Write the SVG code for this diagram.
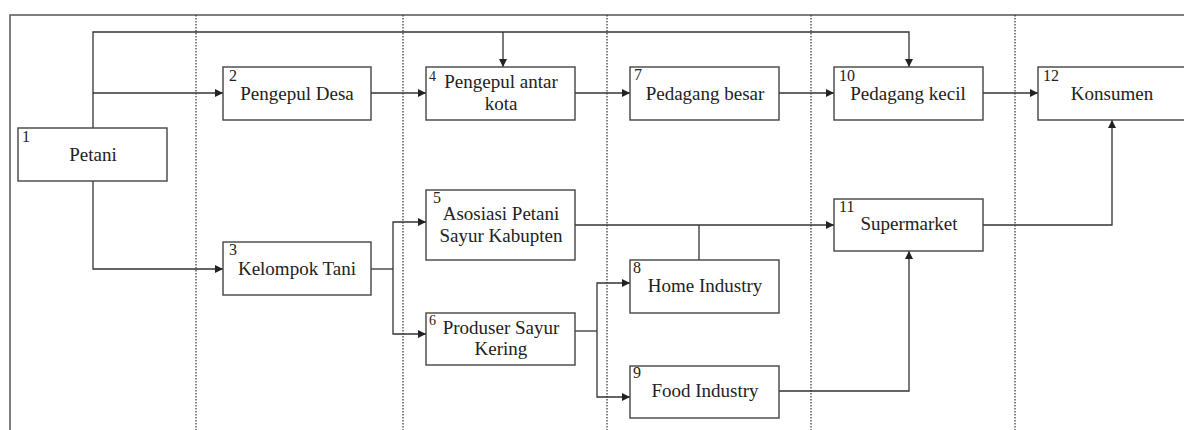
<svg xmlns="http://www.w3.org/2000/svg" width="1184" height="430" viewBox="0 0 1184 430">
<defs>
<marker id="ah" viewBox="0 0 10 10" refX="10" refY="5" markerWidth="9" markerHeight="8" markerUnits="userSpaceOnUse" orient="auto">
<path d="M0,0 L10,5 L0,10 Z" fill="#222"/>
</marker>
<style>
.frame{fill:none;stroke:#555;stroke-width:1.5}
.lane{stroke:#333;stroke-width:1.2;stroke-dasharray:1.5 1.5}
.box{fill:#fff;stroke:#444;stroke-width:1.4}
.c{fill:none;stroke:#333;stroke-width:1.3}
.a{marker-end:url(#ah)}
.t{font-family:"Liberation Serif","Times New Roman",serif;font-size:19px;fill:#222;text-anchor:middle}
.n{font-family:"Liberation Serif","Times New Roman",serif;font-size:16px;fill:#222}
</style>
</defs>
<rect width="1184" height="430" fill="#fff"/>
<g id="frame">
<path class="frame" d="M1184,15 H10 V430"/>
<line class="lane" x1="196" y1="15" x2="196" y2="430"/>
<line class="lane" x1="403" y1="15" x2="403" y2="430"/>
<line class="lane" x1="607" y1="15" x2="607" y2="430"/>
<line class="lane" x1="811" y1="15" x2="811" y2="430"/>
<line class="lane" x1="1015" y1="15" x2="1015" y2="430"/>
</g>
<g id="connectors">
<path class="c a" d="M93,128 V32 H909 V67"/>
<path class="c a" d="M503,32 V67"/>
<path class="c a" d="M93,93 H223"/>
<path class="c a" d="M371,93 H426"/>
<path class="c a" d="M575,93 H630"/>
<path class="c a" d="M779,93 H834"/>
<path class="c a" d="M983,93 H1038"/>
<path class="c a" d="M93,181 V269 H223"/>
<path class="c" d="M371,269 H393"/>
<path class="c a" d="M393,269 V222 H426"/>
<path class="c a" d="M393,269 V334 H426"/>
<path class="c a" d="M575,225 H834"/>
<path class="c" d="M699,225 V260"/>
<path class="c" d="M575,331 H597"/>
<path class="c a" d="M597,331 V283 H630"/>
<path class="c a" d="M597,331 V397 H630"/>
<path class="c a" d="M779,391 H909 V251"/>
<path class="c a" d="M983,225 H1112 V120"/>
</g>
<g id="n1"><rect class="box" x="18" y="128" width="149" height="53"/><text class="n" x="22" y="142">1</text><text class="t" x="93" y="161">Petani</text></g>
<g id="n2"><rect class="box" x="223" y="67" width="148" height="53"/><text class="n" x="229" y="81">2</text><text class="t" x="297" y="100">Pengepul Desa</text></g>
<g id="n3"><rect class="box" x="223" y="242" width="148" height="53"/><text class="n" x="229" y="255">3</text><text class="t" x="297" y="275">Kelompok Tani</text></g>
<g id="n4"><rect class="box" x="426" y="67" width="149" height="53"/><text class="n" x="429" y="81" style="font-size:14px">4</text><text class="t" x="501" y="88">Pengepul antar</text><text class="t" x="501" y="110">kota</text></g>
<g id="n5"><rect class="box" x="426" y="190" width="149" height="70"/><text class="n" x="433" y="203">5</text><text class="t" x="501" y="220">Asosiasi Petani</text><text class="t" x="501" y="242">Sayur Kabupten</text></g>
<g id="n6"><rect class="box" x="426" y="313" width="149" height="52"/><text class="n" x="429" y="325" style="font-size:14px">6</text><text class="t" x="501" y="334">Produser Sayur</text><text class="t" x="501" y="355">Kering</text></g>
<g id="n7"><rect class="box" x="630" y="67" width="149" height="53"/><text class="n" x="634" y="80">7</text><text class="t" x="705" y="100">Pedagang besar</text></g>
<g id="n8"><rect class="box" x="630" y="260" width="149" height="53"/><text class="n" x="633" y="273">8</text><text class="t" x="705" y="292">Home Industry</text></g>
<g id="n9"><rect class="box" x="630" y="366" width="149" height="52"/><text class="n" x="633" y="378">9</text><text class="t" x="705" y="397">Food Industry</text></g>
<g id="n10"><rect class="box" x="834" y="67" width="149" height="53"/><text class="n" x="839" y="81">10</text><text class="t" x="908" y="100">Pedagang kecil</text></g>
<g id="n11"><rect class="box" x="834" y="199" width="149" height="52"/><text class="n" x="839" y="212">11</text><text class="t" x="909" y="230">Supermarket</text></g>
<g id="n12"><rect class="box" x="1038" y="67" width="149" height="53"/><text class="n" x="1043" y="81">12</text><text class="t" x="1112" y="100">Konsumen</text></g>
</svg>
